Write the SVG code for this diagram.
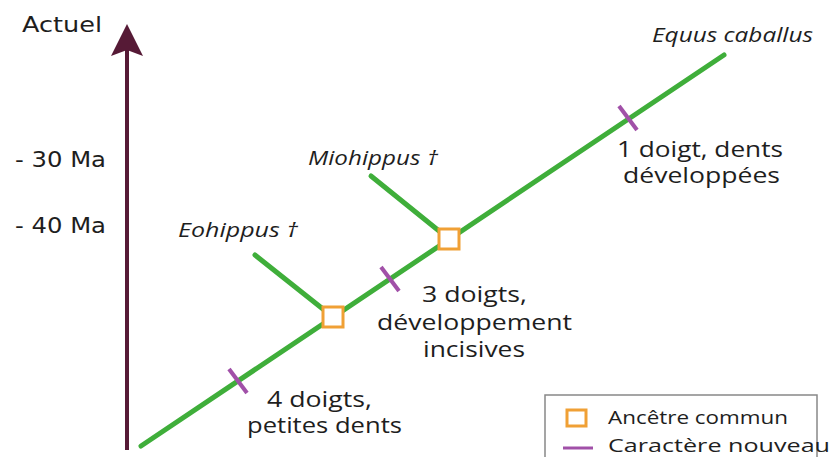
<svg xmlns="http://www.w3.org/2000/svg" width="833" height="457" viewBox="0 0 833 457">
  <style>
    .axis { stroke: #561a36; stroke-width: 4; fill: none; }
    .branch { stroke: #3fae3a; stroke-width: 5; stroke-linecap: round; fill: none; }
    .tick { stroke: #a150a8; stroke-width: 4; }
    .node { fill: #ffffff; stroke: #f0a035; stroke-width: 3; }
    .time { font-family: "DejaVu Sans", sans-serif; font-size: 21px; fill: #1e1e1e; }
    .taxon { font-family: "Open Sans", "Liberation Sans", sans-serif; font-style: italic; font-size: 20px; fill: #1e1e1e; }
    .trait { font-family: "Open Sans", "Liberation Sans", sans-serif; font-size: 21px; fill: #1e1e1e; }
    .legend { font-family: "Open Sans", "Liberation Sans", sans-serif; font-size: 18px; fill: #1e1e1e; }
  </style>
  <rect width="833" height="457" fill="#ffffff"/>

  <!-- time axis -->
  <g id="time-axis">
    <line class="axis" x1="127" y1="450" x2="127" y2="48"/>
    <path d="M127 24 L143 56 L127 50 L111 56 Z" fill="#561a36"/>
    <text class="time" x="22" y="32" textLength="80" lengthAdjust="spacingAndGlyphs">Actuel</text>
    <text class="time" x="15" y="167" textLength="91" lengthAdjust="spacingAndGlyphs">- 30 Ma</text>
    <text class="time" x="15" y="233" textLength="91" lengthAdjust="spacingAndGlyphs">- 40 Ma</text>
  </g>

  <!-- branches of the tree -->
  <g id="connectors">
    <line class="branch" x1="141" y1="446" x2="724" y2="55"/>
    <line class="branch" x1="255" y1="255" x2="333" y2="317"/>
    <line class="branch" x1="371" y1="176" x2="449" y2="239"/>
  </g>

  <!-- new characters on the main line -->
  <g id="characters">
    <line class="tick" x1="229" y1="369" x2="247" y2="393"/>
    <line class="tick" x1="381" y1="267" x2="399" y2="291"/>
    <line class="tick" x1="619" y1="106" x2="637" y2="130"/>
  </g>

  <!-- common ancestors -->
  <g id="ancestor-1"><rect class="node" x="323" y="307" width="20" height="20"/></g>
  <g id="ancestor-2"><rect class="node" x="439" y="229" width="20" height="20"/></g>

  <g id="eohippus"><text class="taxon" x="178" y="237" textLength="120" lengthAdjust="spacingAndGlyphs">Eohippus †</text></g>
  <g id="miohippus"><text class="taxon" x="308" y="165" textLength="130" lengthAdjust="spacingAndGlyphs">Miohippus †</text></g>
  <g id="equus"><text class="taxon" x="652" y="42" textLength="161" lengthAdjust="spacingAndGlyphs">Equus caballus</text></g>

  <g id="trait-4">
    <text class="trait" x="267" y="407" textLength="105" lengthAdjust="spacingAndGlyphs">4 doigts,</text>
    <text class="trait" x="247" y="433" textLength="155" lengthAdjust="spacingAndGlyphs">petites dents</text>
  </g>
  <g id="trait-3">
    <text class="trait" x="422" y="302" textLength="105" lengthAdjust="spacingAndGlyphs">3 doigts,</text>
    <text class="trait" x="377" y="330" textLength="195" lengthAdjust="spacingAndGlyphs">développement</text>
    <text class="trait" x="423" y="357" textLength="102" lengthAdjust="spacingAndGlyphs">incisives</text>
  </g>
  <g id="trait-1">
    <text class="trait" x="617" y="157" textLength="166" lengthAdjust="spacingAndGlyphs">1 doigt, dents</text>
    <text class="trait" x="623" y="183" textLength="157" lengthAdjust="spacingAndGlyphs">développées</text>
  </g>

  <!-- legend -->
  <g id="legend">
    <rect x="545" y="395" width="272" height="70" fill="#ffffff" stroke="#888" stroke-width="1.5"/>
    <rect class="node" x="567" y="410" width="19" height="16" stroke-width="2.5"/>
    <text class="legend" x="608" y="424" textLength="180" lengthAdjust="spacingAndGlyphs">Ancêtre commun</text>
    <line x1="563" y1="448" x2="593" y2="448" stroke="#a150a8" stroke-width="3"/>
    <text class="legend" x="608" y="452" font-size="17" textLength="222" lengthAdjust="spacingAndGlyphs">Caractère nouveau</text>
  </g>
</svg>
